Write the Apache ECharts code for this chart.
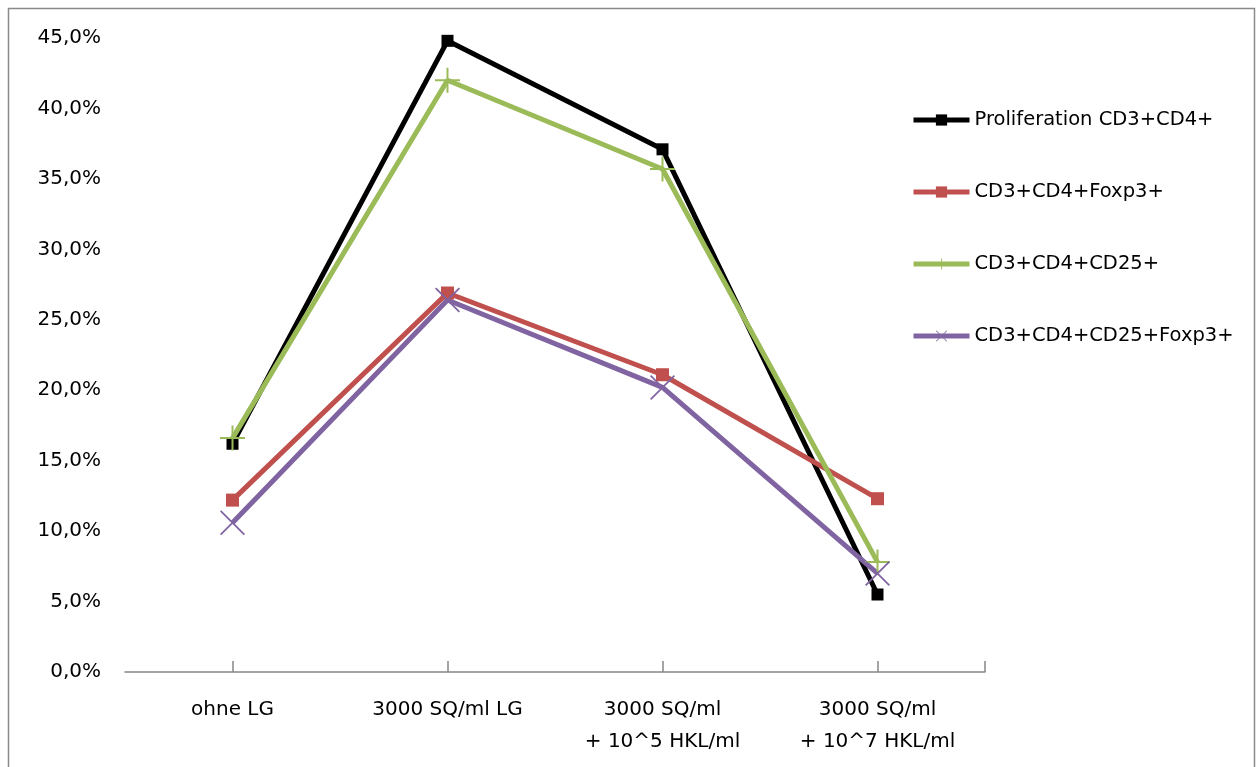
<!DOCTYPE html>
<html>
<head>
<meta charset="utf-8">
<script src="https://cdn.jsdelivr.net/npm/echarts@6/dist/echarts.min.js"></script>
<style>
html,body{margin:0;padding:0;background:#fff;}
#c{width:1256px;height:767px;}
</style>
</head>
<body>
<div id="c"></div>
<script>
const categories = ['ohne LG', '3000 SQ/ml LG', '3000 SQ/ml\n+ 10^5 HKL/ml', '3000 SQ/ml\n+ 10^7 HKL/ml'];
const seriesNames = ['Proliferation CD3+CD4+', 'CD3+CD4+Foxp3+', 'CD3+CD4+CD25+', 'CD3+CD4+CD25+Foxp3+'];
const proliferation = [16.2, 44.8, 37.1, 5.5];
const foxp3 = [12.2, 26.9, 21.1, 12.3];
const cd25 = [16.6, 42.0, 35.7, 7.8];
const cd25foxp3 = [10.6, 26.4, 20.2, 7.0];
const yTicks = [0, 5, 10, 15, 20, 25, 30, 35, 40, 45];

const FONT = 'DejaVu Sans';
const plusPath = 'path://M0,4.6h10v0.8h-10z M4.6,0h0.8v10h-0.8z';
const xPath = 'path://M0,0.5 L0.5,0 L10,9.5 L9.5,10 Z M9.5,0 L10,0.5 L0.5,10 L0,9.5 Z';

const chart = echarts.init(document.getElementById('c'));
function mk(name, data, color, symbol, size) {
  return {
    name: name, type: 'line', data: data,
    symbol: symbol, symbolSize: size,
    showSymbol: true,
    lineStyle: {color: color, width: 5},
    itemStyle: {color: color},
    emphasis: {disabled: true},
    z: 2
  };
}
chart.setOption({
  animation: false,
  backgroundColor: '#fff',
  grid: {left: 125, right: 271, top: 38, bottom: 95, containLabel: false},
  legend: {
    orient: 'vertical', left: 906, top: 105,
    itemWidth: 56, itemHeight: 14, itemGap: 52,
    textStyle: {fontFamily: FONT, fontSize: 19.5, color: '#000', padding: [0,0,0,0]},
    lineStyle: {width: 5},
    data: seriesNames.map(n => ({name: n}))
  },
  xAxis: {
    type: 'category', data: categories, boundaryGap: true,
    axisLine: {lineStyle: {color: '#868686', width: 1.5}},
    axisTick: {show: true, alignWithLabel: true, inside: true, length: 11, lineStyle: {color: '#868686', width: 1.5}},
    axisLabel: {fontFamily: FONT, fontSize: 20, color: '#000', margin: 22, lineHeight: 32}
  },
  yAxis: {
    type: 'value', min: 0, max: 45, interval: 5,
    axisLine: {show: false}, axisTick: {show: false},
    splitLine: {show: false},
    axisLabel: {fontFamily: FONT, fontSize: 20, color: '#000', margin: 24,
      formatter: v => v.toFixed(1).replace('.', ',') + '%'}
  },
  graphic: [{
    type: 'rect', shape: {x: 8.5, y: 8.5, width: 1246, height: 800},
    style: {fill: 'none', stroke: '#8a8a8a', lineWidth: 1.5}, silent: true
  }, {
    type: 'line', shape: {x1: 985, y1: 661, x2: 985, y2: 672},
    style: {stroke: '#868686', lineWidth: 1.5}, silent: true
  }],
  series: [
    mk(seriesNames[0], proliferation, '#000000', 'rect', 12),
    mk(seriesNames[1], foxp3, '#C0504D', 'rect', 13),
    mk(seriesNames[2], cd25, '#9BBB59', plusPath, 25),
    mk(seriesNames[3], cd25foxp3, '#8064A2', xPath, 25)
  ]
});
</script>
</body>
</html>
